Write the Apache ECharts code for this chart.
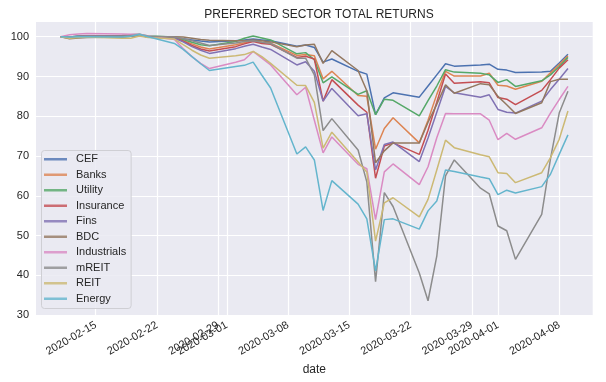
<!DOCTYPE html>
<html>
<head>
<meta charset="utf-8">
<script src="https://cdn.jsdelivr.net/npm/echarts@6/dist/echarts.min.js"></script>
<style>html,body{margin:0;padding:0;background:#fff}#c{width:606px;height:382px}</style>
</head>
<body>
<div id="c"></div>
<script>
var dates = ['2020-02-11','2020-02-12','2020-02-13','2020-02-14','2020-02-18','2020-02-19','2020-02-20','2020-02-21',
'2020-02-24','2020-02-25','2020-02-26','2020-02-27','2020-02-28',
'2020-03-02','2020-03-03','2020-03-04','2020-03-05','2020-03-06',
'2020-03-09','2020-03-10','2020-03-11','2020-03-12','2020-03-13',
'2020-03-16','2020-03-17','2020-03-18','2020-03-19','2020-03-20',
'2020-03-23','2020-03-24','2020-03-25','2020-03-26','2020-03-27',
'2020-03-30','2020-03-31','2020-04-01','2020-04-02','2020-04-03',
'2020-04-06','2020-04-07','2020-04-08','2020-04-09'];

var seriesNames = ['CEF','Banks','Utility','Insurance','Fins','BDC','Industrials','mREIT','REIT','Energy'];

var CEF = [100,99.9,100.1,100.2,100.2,100.3,100.4,100.0,99.8,99.5,99.2,98.9,98.7,99.0,99.2,99.4,99.2,99.0,97.6,97.9,97.3,93.6,94.4,91.3,90.6,80.4,84.6,85.9,84.8,87.6,90.4,93.2,92.6,92.9,93.1,91.8,91.6,91.0,91.1,91.3,93.4,95.6];
var Banks = [100,99.7,100.0,100.1,99.9,100.1,100.3,99.9,99.8,99.0,98.2,97.4,96.9,98.0,98.5,99.0,98.6,98.4,95.3,95.5,95.2,89.4,91.3,85.2,85.0,71.7,76.9,79.6,73.3,79.0,85.5,91.3,90.1,90.1,90.8,87.8,87.6,86.8,88.8,90.9,93.0,95.2];
var Utility = [100,99.9,100.1,100.2,100.3,100.5,100.6,100.2,99.9,99.3,98.6,98.0,97.7,98.8,99.6,100.2,99.7,99.2,95.7,96.0,94.2,88.4,89.9,85.5,86.4,80.4,84.3,84.0,80.1,83.9,87.6,91.7,91.1,90.8,90.4,88.5,89.2,87.5,88.9,90.4,92.5,94.8];
var Insurance = [100,99.8,100.0,100.2,100.1,100.2,100.4,99.9,99.7,98.9,97.8,96.9,96.4,97.5,98.2,98.8,98.3,98.1,94.8,95.1,94.4,83.8,89.2,82.8,81.0,64.4,72.5,73.3,70.4,76.5,83.5,90.6,88.3,88.7,88.4,84.7,84.3,82.9,86.5,89.2,92.1,94.2];
var Fins = [100,99.8,100.1,100.2,100.1,100.2,100.4,99.9,99.6,98.7,97.5,96.6,95.8,97.0,97.6,98.1,97.4,96.8,92.9,93.7,91.3,83.8,87.0,80.1,80.6,66.5,72.9,73.5,68.6,74.5,81.0,87.5,85.9,84.8,85.4,81.7,81.0,80.8,83.8,86.7,89.3,92.0];
var BDC = [100,99.5,99.7,99.8,99.9,100.1,100.3,100.0,100.0,99.9,99.6,99.3,99.1,99.0,99.0,99.2,99.0,98.7,97.5,97.9,98.1,93.3,96.5,91.5,86.4,68.3,71.3,73.3,73.3,78.5,83.0,87.9,85.8,88.2,87.9,85.0,82.9,80.7,83.4,88.7,89.3,89.3];
var Industrials = [100,100.5,100.7,100.8,100.7,100.6,100.6,100.2,99.3,97.0,95.0,93.3,92.0,93.6,94.2,96.3,94.6,92.9,85.4,87.3,79.0,70.8,74.8,67.9,66.8,54.0,66.0,68.0,62.8,67.3,74.6,80.7,80.6,80.6,79.0,74.1,75.7,74.2,77.1,80.8,84.2,87.5];
var mREIT = [100,99.9,100.1,100.2,100.1,100.3,100.4,100.1,99.9,99.5,99.0,98.4,97.8,98.4,98.8,99.0,98.6,98.3,94.6,94.6,90.4,76.4,79.4,71.5,63.5,38.4,60.8,57.3,40.6,33.6,44.8,65.0,69.0,61.9,60.5,52.4,51.2,44.0,55.3,69.3,80.8,86.3];
var REIT = [100,99.6,99.8,99.9,99.6,99.6,100.2,99.8,99.4,98.0,96.6,95.4,94.6,95.2,95.5,96.3,95.0,93.3,87.8,87.7,83.5,72.0,76.0,68.5,66.0,48.6,58.2,59.5,54.7,59.1,66.5,74.0,72.1,70.3,69.8,65.8,65.6,63.3,65.8,69.6,74.2,81.3];
var Energy = [100,99.9,100.0,100.0,99.9,100.1,100.6,100.0,98.3,96.8,95.0,93.2,91.5,92.5,92.8,93.6,90.3,87.1,70.5,72.3,69.0,56.3,63.8,57.9,54.2,41.1,54.0,54.2,51.6,56.2,58.7,66.5,66.1,64.7,64.3,60.3,61.4,60.7,62.3,65.4,70.4,75.3];

var xTickLabels = ['2020-02-15','2020-02-22','2020-02-29','2020-03-01','2020-03-08','2020-03-15','2020-03-22','2020-03-29','2020-04-01','2020-04-08'];
var yTickLabels = [30,40,50,60,70,80,90,100];

var colors = ['#4c72b0','#dd8452','#55a868','#c44e52','#8172b3','#937860','#da8bc3','#8c8c8c','#ccb974','#64b5cd'];
var allValues = [CEF,Banks,Utility,Insurance,Fins,BDC,Industrials,mREIT,REIT,Energy];

function ts(s){var p=s.split('-');return Date.UTC(+p[0],+p[1]-1,+p[2]);}
function pad(n){return n<10?'0'+n:''+n;}
function fmt(v){var d=new Date(Math.round(v));return d.getUTCFullYear()+'-'+pad(d.getUTCMonth()+1)+'-'+pad(d.getUTCDate());}

var DAY = 86400000;
var xs = dates.map(ts);
var xMin = xs[0] - 2.83*DAY;
var xMax = xs[xs.length-1] + 2.83*DAY;
var xTicks = xTickLabels.map(ts);

var series = seriesNames.map(function(n,i){
  return {
    name:n, type:'line', showSymbol:false, symbol:'none',
    data: xs.map(function(x,j){return [x, allValues[i][j]];}),
    lineStyle:{width:1.5, color:colors[i]},
    itemStyle:{color:colors[i]},
    animation:false
  };
});

var FONT = '"Liberation Sans", Arial, sans-serif';
var chart = echarts.init(document.getElementById('c'), null, {renderer:'canvas'});
chart.setOption({
  animation:false,
  color: colors,
  title:{text:'PREFERRED SECTOR TOTAL RETURNS', left:314, top:4, textAlign:'center',
    textStyle:{fontFamily:FONT, fontSize:12, fontWeight:'normal', color:'#262626'}},
  grid:{left:36, top:22, right:13.3, bottom:66.7, show:true, backgroundColor:'#eaeaf2', borderWidth:0, containLabel:false},
  legend:{
    orient:'vertical', left:41.5, top:150.5, data:seriesNames,
    icon:'rect', itemWidth:23, itemHeight:2.5, itemGap:0,
    padding:[1,5,2,2.5],
    backgroundColor:'rgba(234,234,242,0.85)', borderColor:'#cfcfd4', borderWidth:1, borderRadius:3,
    itemStyle:{opacity:0.8},
    textStyle:{fontFamily:FONT, fontSize:11, color:'#262626', lineHeight:15.5, padding:[0,0,0,4]}
  },
  xAxis:{
    type:'value', min:xMin, max:xMax, scale:true,
    name:'date', nameLocation:'middle', nameGap:48,
    nameTextStyle:{fontFamily:FONT, fontSize:12, color:'#262626'},
    axisLine:{show:false}, axisTick:{show:false, customValues:xTicks},
    splitLine:{show:true, lineStyle:{color:'#ffffff', width:1.2}},
    axisLabel:{customValues:xTicks, interval:0, rotate:30, margin:9, fontFamily:FONT, fontSize:11, color:'#262626',
      formatter:function(v){return fmt(v);}}
  },
  yAxis:{
    type:'value', min:29.94, max:103.7,
    axisLine:{show:false}, axisTick:{show:false, customValues:yTickLabels},
    splitLine:{show:true, lineStyle:{color:'#ffffff', width:1.2}},
    axisLabel:{customValues:yTickLabels, margin:7, fontFamily:FONT, fontSize:11, color:'#262626',
      formatter:function(v){return String(Math.round(v));}}
  },
  series: series
});
</script>
</body>
</html>
